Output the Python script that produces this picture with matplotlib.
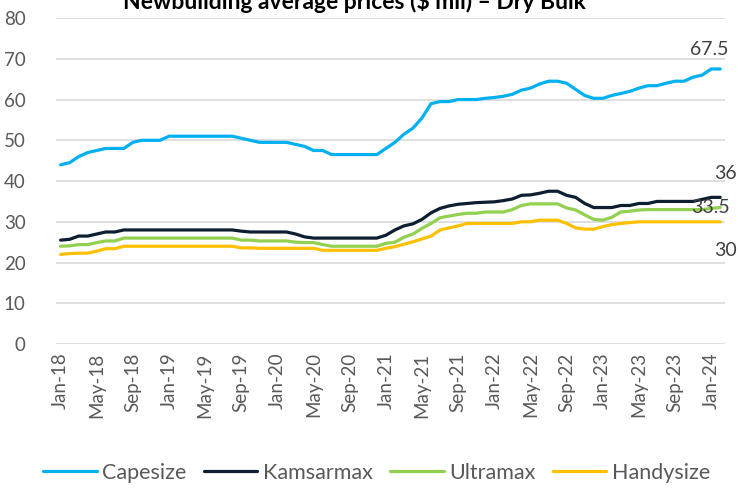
import numpy as np
import pandas as pd
import matplotlib
matplotlib.use("Agg")
import matplotlib.pyplot as plt

plt.rcParams['font.family'] = ['Lato', 'DejaVu Sans']

# Monthly data, Jan-18 .. Feb-24
months = pd.date_range("2018-01-01", periods=74, freq="MS").strftime("%b-%y").tolist()

capesize = [44, 44.5, 46, 47, 47.5, 48, 48, 48, 49.5, 50, 50, 50,
            51, 51, 51, 51, 51, 51, 51, 51, 50.5, 50, 49.5, 49.5,
            49.5, 49.5, 49, 48.5, 47.5, 47.5, 46.5, 46.5, 46.5, 46.5, 46.5, 46.5,
            48, 49.5, 51.5, 53, 55.5, 59, 59.5, 59.5, 60, 60, 60, 60.3,
            60.5, 60.8, 61.3, 62.3, 62.8, 63.8, 64.5, 64.5, 64, 62.5, 61, 60.3,
            60.3, 61, 61.5, 62, 62.8, 63.4, 63.4, 64, 64.5, 64.5, 65.5, 66,
            67.5, 67.5]
kamsarmax = [25.5, 25.7, 26.5, 26.5, 27, 27.5, 27.5, 28, 28, 28, 28, 28,
             28, 28, 28, 28, 28, 28, 28, 28, 27.7, 27.5, 27.5, 27.5,
             27.5, 27.5, 27, 26.3, 26, 26, 26, 26, 26, 26, 26, 26,
             26.7, 28, 29, 29.5, 30.6, 32.2, 33.3, 33.9, 34.3, 34.5, 34.7, 34.8,
             34.9, 35.2, 35.6, 36.5, 36.6, 37, 37.5, 37.5, 36.5, 36, 34.5, 33.5,
             33.5, 33.5, 34, 34, 34.5, 34.5, 35, 35, 35, 35, 35, 35.5,
             36, 36]
ultramax = [24, 24.1, 24.4, 24.4, 24.9, 25.3, 25.3, 26, 26, 26, 26, 26,
            26, 26, 26, 26, 26, 26, 26, 26, 25.5, 25.5, 25.3, 25.3,
            25.3, 25.3, 25, 24.9, 24.9, 24.4, 24, 24, 24, 24, 24, 24,
            24.7, 25, 26.2, 27, 28.4, 29.6, 31, 31.4, 31.8, 32.1, 32.1, 32.4,
            32.4, 32.4, 33, 34, 34.4, 34.4, 34.4, 34.4, 33.4, 32.9, 31.7, 30.6,
            30.4, 31.1, 32.4, 32.6, 32.9, 33, 33, 33, 33, 33, 33, 33,
            33.3, 33.5]
handysize = [22, 22.2, 22.3, 22.3, 22.8, 23.4, 23.4, 24, 24, 24, 24, 24,
             24, 24, 24, 24, 24, 24, 24, 24, 23.6, 23.6, 23.5, 23.5,
             23.5, 23.5, 23.5, 23.5, 23.5, 23, 23, 23, 23, 23, 23, 23,
             23.5, 23.9, 24.5, 25.1, 25.8, 26.5, 28, 28.5, 29, 29.6, 29.6, 29.6,
             29.6, 29.6, 29.6, 30, 30, 30.4, 30.4, 30.4, 29.6, 28.5, 28.2, 28.2,
             28.8, 29.3, 29.6, 29.8, 30, 30, 30, 30, 30, 30, 30, 30,
             30, 30]

series = [("Capesize", capesize, "#00B0F0"),
          ("Kamsarmax", kamsarmax, "#0D1E30"),
          ("Ultramax", ultramax, "#92D050"),
          ("Handysize", handysize, "#FFC000")]

# where the end-value labels sit, in pixels from the last point
label_offsets = {"Capesize": (-11, 19), "Kamsarmax": (5, 24),
                 "Ultramax": (-10, 0), "Handysize": (5, -29)}

fig = plt.figure(figsize=(7.38, 4.88), dpi=100)
ax = fig.add_axes([0.076, 0.295, 0.906, 0.668])

x = np.arange(len(months))
for name, vals, col in series:
    ax.plot(x, vals, color=col, linewidth=2.3, label=name, solid_capstyle="round")
    ax.annotate(f"{vals[-1]:g}", xy=(x[-1], vals[-1]), xytext=label_offsets[name],
                textcoords="offset pixels", ha="center", va="center",
                fontsize=14, color="#404040", annotation_clip=False)

ax.set_xlim(-0.5, len(months) - 0.5)
ax.set_ylim(0, 80)
ax.set_yticks(range(0, 81, 10))
ax.set_xticks(x[::4])
ax.set_xticklabels(months[::4], rotation=90)
ax.tick_params(axis="both", length=0, colors="#595959", labelsize=13.5)
ax.tick_params(axis="x", pad=6)
ax.tick_params(axis="y", pad=22)
for lbl in ax.get_yticklabels():
    lbl.set_horizontalalignment("right")
ax.grid(axis="y", color="#D9D9D9", linewidth=1.2)
ax.set_axisbelow(True)
for s in ax.spines.values():
    s.set_visible(False)

fig.text(0.48, 0.981, "Newbuilding average prices ($ mil) \u2013 Dry Bulk",
         ha="center", va="baseline", fontsize=16.5, fontweight="bold", color="black")

fig.legend(loc="center", bbox_to_anchor=(0.51, 0.031), ncol=4, frameon=False,
           fontsize=15.5, handlelength=2.5, handletextpad=0.25, columnspacing=0.8,
           labelcolor="#595959")

fig.savefig("out.png", dpi=100)
